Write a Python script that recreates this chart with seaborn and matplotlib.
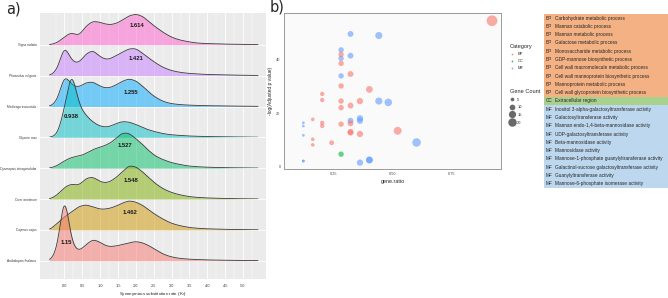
import numpy as np
import pandas as pd
import matplotlib
matplotlib.use("Agg")
import matplotlib.pyplot as plt
import seaborn as sns
from matplotlib.lines import Line2D

sns.set_theme(style="white")
plt.rcParams['font.family'] = ['Liberation Sans', 'DejaVu Sans']

# ------------------------------------------------------------------ panel a data
species = ["Arabidopsis thaliana", "Cajanus cajan", "Cicer arietinum",
           "Cyamopsis tetragonoloba", "Glycine max", "Medicago truncatula",
           "Phaseolus vulgaris", "Vigna radiata"]
species_colors = ["#F8766D", "#CD9600", "#7CAE00", "#00BE67",
                  "#00BFC4", "#00A9FF", "#C77CFF", "#FF61CC"]
# Ks values (binned) and relative density weights read from the ridges
ks_bins = [-0.2, 0.0, 0.2, 0.4, 0.6, 0.8, 1.0, 1.2, 1.4, 1.6, 1.8, 2.0, 2.2, 2.4,
           2.6, 2.8, 3.0, 3.2, 3.4, 3.6, 3.8, 4.0, 4.2, 4.4, 4.6, 4.8, 5.0, 5.2, 5.4]
w_arabidopsis = [10, 76, 16, 9, 16, 22, 18.5, 14, 14.5, 16, 18, 19.5, 18, 14.5,
                 10, 6, 3.8, 2.5, 1.8, 1.4, 1.1, 0.9, 0.7, 0.6, 0.5, 0.4, 0.3, 0.2, 0.2]
w_cajanus = [7, 13, 18, 23.5, 25.5, 23, 20.5, 21, 23, 26.5, 29.5, 28, 24.5, 19,
             14, 10, 6.5, 4.5, 3, 2, 1.5, 1.1, 0.9, 0.7, 0.5, 0.4, 0.3, 0.2, 0.2]
w_cicer = [4, 12, 15.5, 13, 21, 22.5, 17, 16, 20, 26.5, 34, 32.5, 27, 20,
           14, 9.5, 6.5, 4.5, 3, 2, 1.5, 1.1, 0.9, 0.7, 0.5, 0.4, 0.3, 0.2, 0.2]
w_cyamopsis = [2.5, 7.5, 11, 12, 14.5, 19, 21, 23.5, 28, 35.5, 35.5, 29.5, 23.5, 16,
               11, 8, 5.5, 4, 2.5, 1.8, 1.3, 1, 0.8, 0.6, 0.5, 0.4, 0.3, 0.2, 0.2]
w_glycine = [2, 28, 72, 32, 22, 15, 11, 10, 13, 16, 15.5, 13, 9.5, 7,
             5, 3.5, 2.5, 2, 1.5, 1.2, 1, 0.8, 0.7, 0.6, 0.5, 0.4, 0.3, 0.2, 0.2]
w_medicago = [5, 34, 21, 19, 24, 25, 20, 18, 20.5, 25, 28, 26, 20, 13,
              8, 4.5, 2.8, 2, 1.5, 1.2, 1, 0.8, 0.7, 0.6, 0.5, 0.4, 0.3, 0.2, 0.2]
w_phaseolus = [5, 33, 14, 12, 22, 26, 18.5, 15.5, 19, 23, 27, 27.5, 22, 16.5,
               11.5, 7.5, 5, 3.5, 2.5, 2, 1.5, 1.2, 1, 0.8, 0.6, 0.5, 0.4, 0.3, 0.2]
w_vigna = [2, 8, 13, 8, 19, 24, 22.5, 20, 20.5, 24, 29, 31, 28.5, 22,
           16.5, 11.5, 7.5, 5, 3.5, 2.2, 1.5, 1.2, 1, 0.8, 0.6, 0.5, 0.4, 0.3, 0.2]
ks_weights = [w_arabidopsis, w_cajanus, w_cicer, w_cyamopsis,
              w_glycine, w_medicago, w_phaseolus, w_vigna]
median_labels = ["1.15", "1.462", "1.548", "1.527", "0.938", "1.255", "1.421", "1.614"]
label_ks = [0.06, 1.83, 1.85, 1.69, 0.20, 1.87, 2.00, 2.04]
label_rise = [0.58, 0.56, 0.59, 0.75, 0.67, 0.45, 0.55, 0.64]
ks_ticks = [0.0, 0.5, 1.0, 1.5, 2.0, 2.5, 3.0, 3.5, 4.0, 4.5, 5.0]

# ------------------------------------------------------------------ panel b data
gene_ratio = [0.32, 0.44, 0.28, 0.28, 0.32, 0.28, 0.44, 0.48, 0.12, 0.12, 0.12, 0.32,
              0.36, 0.36, 0.60, 0.12, 0.12, 0.36, 0.40, 0.40,
              0.28,
              0.28, 0.28, 0.32, 0.28, 0.40, 0.20, 0.20, 0.28, 0.28, 0.32, 0.36, 0.16,
              0.20, 0.20, 0.28, 0.32, 0.32, 0.32, 0.36, 0.52, 0.16, 0.16, 0.24, 0.92]
neg_log_p = [49.8, 49.2, 43.8, 40.6, 41.6, 34.0, 24.5, 24.0, 16.3, 15.1, 11.6, 17.1,
             18.0, 17.1, 8.9, 1.9, 1.9, 1.3, 2.3, 2.3,
             4.5,
             42.1, 38.7, 34.7, 30.2, 28.9, 27.2, 24.9, 24.5, 22.0, 22.8, 24.5, 17.6,
             16.3, 15.1, 15.8, 16.1, 12.9, 12.6, 12.1, 13.3, 10.1, 8.0, 8.8, 54.8]
category = ["MF"] * 20 + ["CC"] + ["BP"] * 24
gene_count = [8, 11, 7, 7, 8, 7, 11, 12, 3, 3, 3, 8,
              9, 9, 15, 3, 3, 9, 10, 10,
              7,
              7, 7, 8, 7, 10, 5, 5, 7, 7, 8, 9, 4,
              5, 5, 7, 8, 8, 8, 9, 13, 4, 4, 6, 23]
cat_palette = {"BP": "#F8766D", "CC": "#00BA38", "MF": "#619CFF"}
legend_counts = [5, 10, 15, 20]

# ------------------------------------------------------------------ table data
go_cat = ["BP"] * 10 + ["CC"] + ["MF"] * 10
go_terms = ["Carbohydrate metabolic process", "Mannan catabolic process",
            "Mannan metabolic process", "Galactose metabolic process",
            "Monosaccharide metabolic process", "GDP-mannose biosynthetic process",
            "Cell wall macromolecule metabolic process",
            "Cell wall mannoprotein biosynthetic process",
            "Mannoprotein metabolic process",
            "Cell wall glycoprotein biosynthetic process",
            "Extracellular region",
            "Inositol 3-alpha-galactosyltransferase activity",
            "Galactosyltransferase activity",
            "Mannan endo-1,4-beta-mannosidase activity",
            "UDP-galactosyltransferase activity",
            "Beta-mannosidase activity", "Mannosidase activity",
            "Mannose-1-phosphate guanylyltransferase activity",
            "Galactinol-sucrose galactosyltransferase activity",
            "Guanylyltransferase activity",
            "Mannose-6-phosphate isomerase activity"]
table_colors = {"BP": "#F4B183", "CC": "#A9D18E", "MF": "#BDD7EE"}

# ------------------------------------------------------------------ figure
W, H = 668, 298
fig = plt.figure(figsize=(W / 100, H / 100), dpi=100)
fig.patch.set_facecolor("white")

def box(l, b, w, h):
    return [l / W, b / H, w / W, h / H]

# ---- panel a background
A_L, A_B, A_W, A_H = 40, 19, 226, 266
xlim_a = (-0.686, 5.644)
ylim_a = (0.41, 9.03)
axA = fig.add_axes(box(A_L, A_B, A_W, A_H))
axA.set_facecolor("#EBEBEB")
axA.set_xlim(*xlim_a)
axA.set_ylim(*ylim_a)
axA.set_xticks(ks_ticks)
axA.set_xticklabels([f"{t:.1f}" for t in ks_ticks])
axA.set_xticks([t + 0.25 for t in [-0.5] + ks_ticks], minor=True)
axA.set_yticks(range(1, len(species) + 1))
axA.set_yticklabels(species)
axA.grid(True, which="major", color="white", linewidth=0.6)
axA.grid(True, which="minor", axis="x", color="white", linewidth=0.3)
axA.tick_params(axis="both", which="major", length=1.8, width=0.4, color="#333333",
                labelcolor="#3A3A3A", pad=1)
axA.tick_params(axis="y", labelsize=2.3, pad=0.8)
axA.tick_params(axis="x", labelsize=2.8, pad=1.5)
axA.tick_params(axis="both", which="minor", length=0)
for s in axA.spines.values():
    s.set_visible(False)
axA.set_xlabel("Synonymous substitution rate (K$_s$)", fontsize=3.2, labelpad=1.8)

# ---- ridges (one transparent axes per species, lower rows drawn on top)
OV_H = 75
for k in reversed(range(len(species))):
    base = A_B + (k + 1 - ylim_a[0]) / (ylim_a[1] - ylim_a[0]) * A_H
    ov = fig.add_axes(box(A_L, base, A_W, OV_H))
    ov.set_facecolor("none")
    wk = np.array(ks_weights[k], dtype=float)
    dfk = pd.DataFrame({"ks": ks_bins, "w": wk})
    sd = np.sqrt(np.cov(np.array(ks_bins), aweights=wk))
    bwm = 0.12 / sd
    sns.kdeplot(data=dfk, x="ks", weights="w", bw_method=bwm, clip=(-0.42, 5.42),
                gridsize=500, fill=True, color=species_colors[k], alpha=0.5,
                linewidth=0, ax=ov)
    sns.kdeplot(data=dfk, x="ks", weights="w", bw_method=bwm, clip=(-0.42, 5.42),
                gridsize=500, fill=False, color="#3a3a3a", linewidth=0.6, ax=ov)
    ov.set_xlim(*xlim_a)
    ov.set_ylim(0, OV_H / (0.2 * wk.sum()))
    ov.axis("off")

for k in range(len(species)):
    fig.text(label_ks[k], k + 1 + label_rise[k], median_labels[k],
             transform=axA.transData, ha="center", va="center",
             fontsize=4.2, fontweight="bold", color="#1a1a1a")

fig.text(6 / W, 1 - 1 / H, "a)", fontsize=10.5, va="top", ha="left",
         family="DejaVu Sans")

# ---- panel b
B_L, B_B, B_W, B_H = 284, 129, 217, 156
axB = fig.add_axes(box(B_L, B_B, B_W, B_H))
axB.set_facecolor("#FAFAFA")
dfb = pd.DataFrame({"gene.ratio": gene_ratio, "nlp": neg_log_p,
                    "Category": category, "Gene Count": gene_count})
sns.scatterplot(data=dfb, x="gene.ratio", y="nlp", hue="Category",
                hue_order=["BP", "CC", "MF"], palette=cat_palette,
                size="Gene Count", sizes=(4, 60), size_norm=(3, 23),
                alpha=0.6, linewidth=0, legend=False, ax=axB)
axB.set_xlim(0.038, 0.958)
axB.set_ylim(-1.1, 57.7)
axB.set_xticks([0.25, 0.50, 0.75])
axB.set_xticklabels(["0.25", "0.50", "0.75"])
axB.set_yticks([0, 20, 40])
axB.tick_params(axis="both", length=1.5, width=0.4, color="#555555",
                labelsize=2.8, labelcolor="#4D4D4D", pad=1)
for s in axB.spines.values():
    s.set_color("#9A9A9A")
    s.set_linewidth(0.7)
axB.set_xlabel("gene.ratio", fontsize=3.9, labelpad=2)
axB.set_ylabel("-log(Adjusted p value)", fontsize=3.5, labelpad=2)
fig.text(270 / W, 1 - 0 / H, "b)", fontsize=10.5, va="top", ha="left",
         family="DejaVu Sans")

# legends
cat_handles = [Line2D([], [], marker="o", linestyle="", markersize=1.3,
                      markerfacecolor=cat_palette[c], markeredgewidth=0, alpha=0.8)
               for c in ["BP", "CC", "MF"]]
leg1 = fig.legend(cat_handles, ["BP", "CC", "MF"], title="Category",
                  loc="upper left", bbox_to_anchor=(508 / W, 1 - 42 / H),
                  frameon=False, fontsize=2.9, title_fontsize=4.1,
                  handlelength=0.8, handletextpad=1.0, labelspacing=0.75,
                  borderpad=0, alignment="left")
size_handles = [Line2D([], [], marker="o", linestyle="",
                       markersize=np.sqrt(4 + 56 * (c - 3) / 20) * 0.85,
                       markerfacecolor="#6A6A6A", markeredgewidth=0)
                for c in legend_counts]
leg2 = fig.legend(size_handles, [str(c) for c in legend_counts], title="Gene Count",
                  loc="upper left", bbox_to_anchor=(508 / W, 1 - 87 / H),
                  frameon=False, fontsize=2.9, title_fontsize=4.1,
                  handlelength=0.8, handletextpad=1.0, labelspacing=0.9,
                  borderpad=0, alignment="left")

# ---- GO term table
T_L, T_B, T_W, T_H = 544, 110, 124, 174
axT = fig.add_axes(box(T_L, T_B, T_W, T_H))
n = len(go_terms)
axT.barh(range(n), [1] * n, left=0, height=1.0,
         color=[table_colors[c] for c in go_cat], linewidth=0)
axT.set_xlim(0, 1)
axT.set_ylim(n - 0.5, -0.5)
axT.axis("off")
for i, (c, t) in enumerate(zip(go_cat, go_terms)):
    axT.text(0.015, i, c, ha="left", va="center", fontsize=3.45, color="#262626")
    axT.text(0.09, i, t, ha="left", va="center", fontsize=3.45, color="#262626")

fig.savefig("out.png", dpi=100)
